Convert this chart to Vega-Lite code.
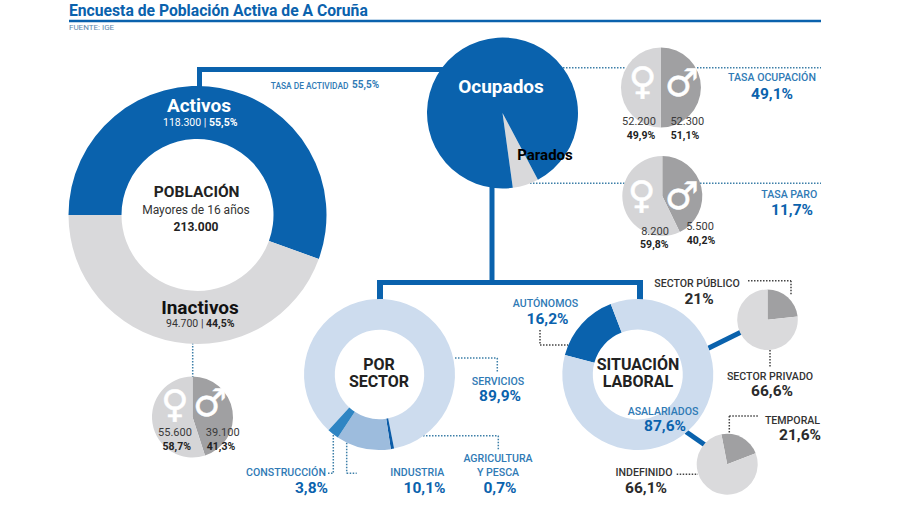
{"$schema":"https://vega.github.io/schema/vega-lite/v6.json","width":900,"height":506,"padding":0,"autosize":{"type":"fit","contains":"padding"},"background":"#ffffff","data":{"values":[{}]},
"config":{"view":{"stroke":null},"axis":{"disable":true},"text":{"font":"Roboto","align":"center","baseline":"middle"},
"style":{"blab":{"fontWeight":500,"fontSize":10.6,"color":"#2f7ab5"},"dlab":{"fontWeight":500,"fontSize":10.6,"color":"#333333"},"bpct":{"fontWeight":"bold","fontSize":15.5,"color":"#0a62ad"},"dpct":{"fontWeight":"bold","fontSize":15.5,"color":"#2b2b2b"},"num":{"fontSize":11,"color":"#3a3a3a"},"pcts":{"fontWeight":"bold","fontSize":10.5,"color":"#222222"},"head":{"fontWeight":"bold","fontSize":16,"color":"#222222"},"sym":{"font":"DejaVu Sans","fontSize":38,"color":"#ffffff","stroke":"#ffffff","strokeWidth":0.5},
"thick":{"color":"#0a62ad","strokeWidth":5},"dotb":{"color":"#3d7fa8","strokeWidth":1.5,"strokeDash":[1.5,1.5]},"dotd":{"color":"#444444","strokeWidth":1.5,"strokeDash":[1.5,1.5]}}},
"resolve":{"scale":{"theta":"independent","color":"independent"}},
"layer":[
{"mark":{"type":"rule","color":"#0a62ad","strokeWidth":2.5},"encoding":{"x":{"datum":69,"scale":{"domain":[0,900]}},"x2":{"datum":821},"y":{"datum":21,"scale":{"domain":[506,0]}}}},
{"mark":{"type":"rule","style":"thick"},"encoding":{"x":{"datum":199.5,"scale":{"domain":[0,900]}},"y":{"datum":67,"scale":{"domain":[506,0]}},"y2":{"datum":88}}},
{"mark":{"type":"rule","style":"thick"},"encoding":{"x":{"datum":197,"scale":{"domain":[0,900]}},"x2":{"datum":445},"y":{"datum":69.5,"scale":{"domain":[506,0]}}}},
{"mark":{"type":"rule","style":"thick"},"encoding":{"x":{"datum":492,"scale":{"domain":[0,900]}},"y":{"datum":185,"scale":{"domain":[506,0]}},"y2":{"datum":282}}},
{"mark":{"type":"rule","style":"thick"},"encoding":{"x":{"datum":377,"scale":{"domain":[0,900]}},"x2":{"datum":643},"y":{"datum":282.5,"scale":{"domain":[506,0]}}}},
{"mark":{"type":"rule","color":"#0a62ad","strokeWidth":6},"encoding":{"x":{"datum":380,"scale":{"domain":[0,900]}},"y":{"datum":282,"scale":{"domain":[506,0]}},"y2":{"datum":300}}},
{"mark":{"type":"rule","color":"#0a62ad","strokeWidth":6},"encoding":{"x":{"datum":640,"scale":{"domain":[0,900]}},"y":{"datum":282,"scale":{"domain":[506,0]}},"y2":{"datum":300}}},
{"mark":{"type":"rule","style":"thick"},"encoding":{"x":{"datum":708.3,"scale":{"domain":[0,900]}},"x2":{"datum":740.7},"y":{"datum":348.3,"scale":{"domain":[506,0]}},"y2":{"datum":332.3}}},
{"mark":{"type":"rule","style":"thick"},"encoding":{"x":{"datum":686,"scale":{"domain":[0,900]}},"x2":{"datum":705},"y":{"datum":431.7,"scale":{"domain":[506,0]}},"y2":{"datum":445}}},
{"mark":{"type":"rule","style":"dotb"},"encoding":{"x":{"datum":563,"scale":{"domain":[0,900]}},"x2":{"datum":625},"y":{"datum":67.7,"scale":{"domain":[506,0]}}}},
{"mark":{"type":"rule","style":"dotb"},"encoding":{"x":{"datum":697,"scale":{"domain":[0,900]}},"x2":{"datum":821},"y":{"datum":67.7,"scale":{"domain":[506,0]}}}},
{"mark":{"type":"rule","style":"dotb"},"encoding":{"x":{"datum":530,"scale":{"domain":[0,900]}},"x2":{"datum":625},"y":{"datum":183.3,"scale":{"domain":[506,0]}}}},
{"mark":{"type":"rule","style":"dotb"},"encoding":{"x":{"datum":700,"scale":{"domain":[0,900]}},"x2":{"datum":821},"y":{"datum":183.3,"scale":{"domain":[506,0]}}}},
{"mark":{"type":"rule","style":"dotb"},"encoding":{"x":{"datum":192.7,"scale":{"domain":[0,900]}},"y":{"datum":343,"scale":{"domain":[506,0]}},"y2":{"datum":377}}},
{"mark":{"type":"rule","style":"dotb"},"encoding":{"x":{"datum":455,"scale":{"domain":[0,900]}},"x2":{"datum":497.3},"y":{"datum":358,"scale":{"domain":[506,0]}}}},
{"mark":{"type":"rule","style":"dotb"},"encoding":{"x":{"datum":497.3,"scale":{"domain":[0,900]}},"y":{"datum":358,"scale":{"domain":[506,0]}},"y2":{"datum":372}}},
{"mark":{"type":"rule","style":"dotb"},"encoding":{"x":{"datum":393,"scale":{"domain":[0,900]}},"x2":{"datum":498.3},"y":{"datum":435.7,"scale":{"domain":[506,0]}}}},
{"mark":{"type":"rule","style":"dotb"},"encoding":{"x":{"datum":498.3,"scale":{"domain":[0,900]}},"y":{"datum":435.7,"scale":{"domain":[506,0]}},"y2":{"datum":450}}},
{"mark":{"type":"rule","style":"dotb"},"encoding":{"x":{"datum":333.3,"scale":{"domain":[0,900]}},"y":{"datum":435,"scale":{"domain":[506,0]}},"y2":{"datum":473.3}}},
{"mark":{"type":"rule","style":"dotb"},"encoding":{"x":{"datum":328,"scale":{"domain":[0,900]}},"x2":{"datum":333.3},"y":{"datum":473.3,"scale":{"domain":[506,0]}}}},
{"mark":{"type":"rule","style":"dotb"},"encoding":{"x":{"datum":346.7,"scale":{"domain":[0,900]}},"y":{"datum":442.7,"scale":{"domain":[506,0]}},"y2":{"datum":473.3}}},
{"mark":{"type":"rule","style":"dotb"},"encoding":{"x":{"datum":346.7,"scale":{"domain":[0,900]}},"x2":{"datum":356.7},"y":{"datum":473.3,"scale":{"domain":[506,0]}}}},
{"mark":{"type":"rule","style":"dotd"},"encoding":{"x":{"datum":540,"scale":{"domain":[0,900]}},"y":{"datum":330,"scale":{"domain":[506,0]}},"y2":{"datum":345}}},
{"mark":{"type":"rule","style":"dotd"},"encoding":{"x":{"datum":540,"scale":{"domain":[0,900]}},"x2":{"datum":568},"y":{"datum":345,"scale":{"domain":[506,0]}}}},
{"mark":{"type":"rule","style":"dotd"},"encoding":{"x":{"datum":748,"scale":{"domain":[0,900]}},"x2":{"datum":791},"y":{"datum":280.7,"scale":{"domain":[506,0]}}}},
{"mark":{"type":"rule","style":"dotd"},"encoding":{"x":{"datum":791,"scale":{"domain":[0,900]}},"y":{"datum":280.7,"scale":{"domain":[506,0]}},"y2":{"datum":295}}},
{"mark":{"type":"rule","style":"dotd"},"encoding":{"x":{"datum":770,"scale":{"domain":[0,900]}},"y":{"datum":350,"scale":{"domain":[506,0]}},"y2":{"datum":366.7}}},
{"mark":{"type":"rule","style":"dotd"},"encoding":{"x":{"datum":729.3,"scale":{"domain":[0,900]}},"x2":{"datum":758},"y":{"datum":416,"scale":{"domain":[506,0]}}}},
{"mark":{"type":"rule","style":"dotd"},"encoding":{"x":{"datum":729.3,"scale":{"domain":[0,900]}},"y":{"datum":416,"scale":{"domain":[506,0]}},"y2":{"datum":433}}},
{"mark":{"type":"rule","style":"dotd"},"encoding":{"x":{"datum":676.7,"scale":{"domain":[0,900]}},"x2":{"datum":698},"y":{"datum":474.3,"scale":{"domain":[506,0]}}}},

{"data":{"values":[{"part":"Activos","rank":1,"value":118300},{"part":"Inactivos","rank":2,"value":94700}]},"transform":[{"stack":"value","groupby":[],"offset":"normalize","sort":[{"field":"rank","order":"ascending"}],"as":["a0","a1"]}],"mark":{"type":"arc","innerRadius":76,"outerRadius":129},"encoding":{"x":{"datum":197.5,"scale":{"domain":[0,900]},"stack":null},"y":{"datum":215,"scale":{"domain":[506,0]},"stack":null},"theta":{"field":"a0","type":"quantitative","stack":null,"scale":{"domain":[0,1],"range":[-1.5708,4.7124]}},"theta2":{"field":"a1"},"color":{"field":"part","type":"nominal","legend":null,"scale":{"domain":["Activos","Inactivos"],"range":["#0a62ad","#d9d9db"]}}}},
{"data":{"values":[{"part":"Parados","rank":1,"value":5.6},{"part":"Ocupados","rank":2,"value":94.4}]},"transform":[{"stack":"value","groupby":[],"offset":"normalize","sort":[{"field":"rank","order":"ascending"}],"as":["a0","a1"]}],"mark":{"type":"arc","innerRadius":0,"outerRadius":75.5},"encoding":{"x":{"datum":502.5,"scale":{"domain":[0,900]},"stack":null},"y":{"datum":113,"scale":{"domain":[506,0]},"stack":null},"theta":{"field":"a0","type":"quantitative","stack":null,"scale":{"domain":[0,1],"range":[2.6529,8.9361]}},"theta2":{"field":"a1"},"color":{"field":"part","type":"nominal","legend":null,"scale":{"domain":["Parados","Ocupados"],"range":["#d9d9db","#0a62ad"]}}}},
{"data":{"values":[{"part":"Hombres","rank":1,"value":52300},{"part":"Mujeres","rank":2,"value":52200}]},"transform":[{"stack":"value","groupby":[],"offset":"normalize","sort":[{"field":"rank","order":"ascending"}],"as":["a0","a1"]}],"mark":{"type":"arc","innerRadius":0,"outerRadius":40},"encoding":{"x":{"datum":661,"scale":{"domain":[0,900]},"stack":null},"y":{"datum":87.5,"scale":{"domain":[506,0]},"stack":null},"theta":{"field":"a0","type":"quantitative","stack":null,"scale":{"domain":[0,1],"range":[0,6.2832]}},"theta2":{"field":"a1"},"color":{"field":"part","type":"nominal","legend":null,"scale":{"domain":["Hombres","Mujeres"],"range":["#a0a0a2","#d5d5d7"]}}}},
{"data":{"values":[{"part":"Hombres","rank":1,"value":42.8},{"part":"Mujeres","rank":2,"value":57.2}]},"transform":[{"stack":"value","groupby":[],"offset":"normalize","sort":[{"field":"rank","order":"ascending"}],"as":["a0","a1"]}],"mark":{"type":"arc","innerRadius":0,"outerRadius":40},"encoding":{"x":{"datum":662.3,"scale":{"domain":[0,900]},"stack":null},"y":{"datum":196,"scale":{"domain":[506,0]},"stack":null},"theta":{"field":"a0","type":"quantitative","stack":null,"scale":{"domain":[0,1],"range":[0,6.2832]}},"theta2":{"field":"a1"},"color":{"field":"part","type":"nominal","legend":null,"scale":{"domain":["Hombres","Mujeres"],"range":["#a0a0a2","#d5d5d7"]}}}},
{"data":{"values":[{"part":"Hombres","rank":1,"value":45},{"part":"Mujeres","rank":2,"value":55}]},"transform":[{"stack":"value","groupby":[],"offset":"normalize","sort":[{"field":"rank","order":"ascending"}],"as":["a0","a1"]}],"mark":{"type":"arc","innerRadius":0,"outerRadius":40.5},"encoding":{"x":{"datum":192.5,"scale":{"domain":[0,900]},"stack":null},"y":{"datum":417,"scale":{"domain":[506,0]},"stack":null},"theta":{"field":"a0","type":"quantitative","stack":null,"scale":{"domain":[0,1],"range":[0,6.2832]}},"theta2":{"field":"a1"},"color":{"field":"part","type":"nominal","legend":null,"scale":{"domain":["Hombres","Mujeres"],"range":["#a0a0a2","#d5d5d7"]}}}},
{"data":{"values":[{"part":"Servicios","rank":1,"value":85.1},{"part":"Agricultura y pesca","rank":2,"value":0.7},{"part":"Industria","rank":3,"value":11.7},{"part":"Construcción","rank":4,"value":2.5}]},"transform":[{"stack":"value","groupby":[],"offset":"normalize","sort":[{"field":"rank","order":"ascending"}],"as":["a0","a1"]}],"mark":{"type":"arc","innerRadius":44.7,"outerRadius":75.5},"encoding":{"x":{"datum":379.5,"scale":{"domain":[0,900]},"stack":null},"y":{"datum":374.5,"scale":{"domain":[506,0]},"stack":null},"theta":{"field":"a0","type":"quantitative","stack":null,"scale":{"domain":[0,1],"range":[3.8833,10.1665]}},"theta2":{"field":"a1"},"color":{"field":"part","type":"nominal","legend":null,"scale":{"domain":["Servicios","Agricultura y pesca","Industria","Construcción"],"range":["#cddcee","#0b5ca8","#9dbcdd","#2f85c3"]}}}},
{"data":{"values":[{"part":"Autónomos","rank":1,"value":15},{"part":"Asalariados","rank":2,"value":85}]},"transform":[{"stack":"value","groupby":[],"offset":"normalize","sort":[{"field":"rank","order":"ascending"}],"as":["a0","a1"]}],"mark":{"type":"arc","innerRadius":45,"outerRadius":75.5},"encoding":{"x":{"datum":637.8,"scale":{"domain":[0,900]},"stack":null},"y":{"datum":374.5,"scale":{"domain":[506,0]},"stack":null},"theta":{"field":"a0","type":"quantitative","stack":null,"scale":{"domain":[0,1],"range":[4.9742,11.2574]}},"theta2":{"field":"a1"},"color":{"field":"part","type":"nominal","legend":null,"scale":{"domain":["Autónomos","Asalariados"],"range":["#0a62ad","#cddcee"]}}}},
{"data":{"values":[{"part":"Sector público","rank":1,"value":23.3},{"part":"Sector privado","rank":2,"value":76.7}]},"transform":[{"stack":"value","groupby":[],"offset":"normalize","sort":[{"field":"rank","order":"ascending"}],"as":["a0","a1"]}],"mark":{"type":"arc","innerRadius":0,"outerRadius":30.3},"encoding":{"x":{"datum":767.5,"scale":{"domain":[0,900]},"stack":null},"y":{"datum":319.7,"scale":{"domain":[506,0]},"stack":null},"theta":{"field":"a0","type":"quantitative","stack":null,"scale":{"domain":[0,1],"range":[0,6.2832]}},"theta2":{"field":"a1"},"color":{"field":"part","type":"nominal","legend":null,"scale":{"domain":["Sector público","Sector privado"],"range":["#a0a0a2","#dadadc"]}}}},
{"data":{"values":[{"part":"Temporal","rank":1,"value":22.2},{"part":"Indefinido","rank":2,"value":77.8}]},"transform":[{"stack":"value","groupby":[],"offset":"normalize","sort":[{"field":"rank","order":"ascending"}],"as":["a0","a1"]}],"mark":{"type":"arc","innerRadius":0,"outerRadius":30.5},"encoding":{"x":{"datum":727.2,"scale":{"domain":[0,900]},"stack":null},"y":{"datum":464.2,"scale":{"domain":[506,0]},"stack":null},"theta":{"field":"a0","type":"quantitative","stack":null,"scale":{"domain":[0,1],"range":[-0.192,6.0912]}},"theta2":{"field":"a1"},"color":{"field":"part","type":"nominal","legend":null,"scale":{"domain":["Temporal","Indefinido"],"range":["#a0a0a2","#dadadc"]}}}},

{"data":{"values":[{"t":"Encuesta de Población Activa de A Coruña"}]},"mark":{"type":"text","align":"left","fontWeight":"bold","fontSize":15.7,"color":"#0a62ad"},"encoding":{"x":{"datum":69,"scale":{"domain":[0,900]}},"y":{"datum":10.5,"scale":{"domain":[506,0]}},"text":{"field":"t"}}},
{"data":{"values":[{"t":"FUENTE: IGE"}]},"mark":{"type":"text","align":"left","fontSize":8,"color":"#5a87ad"},"encoding":{"x":{"datum":69,"scale":{"domain":[0,900]}},"y":{"datum":27.5,"scale":{"domain":[506,0]}},"text":{"field":"t"}}},
{"data":{"values":[{"t":"Activos"}]},"mark":{"type":"text","fontWeight":"bold","fontSize":19,"color":"#ffffff"},"encoding":{"x":{"datum":199,"scale":{"domain":[0,900]}},"y":{"datum":106,"scale":{"domain":[506,0]}},"text":{"field":"t"}}},
{"data":{"values":[{"t":"118.300 |"}]},"mark":{"type":"text","align":"left","fontSize":10.5,"color":"#ffffff"},"encoding":{"x":{"datum":163,"scale":{"domain":[0,900]}},"y":{"datum":123,"scale":{"domain":[506,0]}},"text":{"field":"t"}}},
{"data":{"values":[{"t":"55,5%"}]},"mark":{"type":"text","align":"left","fontWeight":"bold","fontSize":10.5,"color":"#ffffff"},"encoding":{"x":{"datum":209,"scale":{"domain":[0,900]}},"y":{"datum":123,"scale":{"domain":[506,0]}},"text":{"field":"t"}}},
{"data":{"values":[{"t":"POBLACIÓN"}]},"mark":{"type":"text","fontWeight":"bold","fontSize":15.5,"color":"#222222"},"encoding":{"x":{"datum":196.7,"scale":{"domain":[0,900]}},"y":{"datum":192,"scale":{"domain":[506,0]}},"text":{"field":"t"}}},
{"data":{"values":[{"t":"Mayores de 16 años"}]},"mark":{"type":"text","fontSize":12,"color":"#333333"},"encoding":{"x":{"datum":196,"scale":{"domain":[0,900]}},"y":{"datum":210,"scale":{"domain":[506,0]}},"text":{"field":"t"}}},
{"data":{"values":[{"t":"213.000"}]},"mark":{"type":"text","fontWeight":"bold","fontSize":12,"color":"#222222"},"encoding":{"x":{"datum":196,"scale":{"domain":[0,900]}},"y":{"datum":227,"scale":{"domain":[506,0]}},"text":{"field":"t"}}},
{"data":{"values":[{"t":"TASA DE ACTIVIDAD"}]},"mark":{"type":"text","align":"left","fontWeight":500,"fontSize":8.4,"color":"#2f7ab5"},"encoding":{"x":{"datum":270.7,"scale":{"domain":[0,900]}},"y":{"datum":85.5,"scale":{"domain":[506,0]}},"text":{"field":"t"}}},
{"data":{"values":[{"t":"55,5%"}]},"mark":{"type":"text","align":"left","fontWeight":"bold","fontSize":10,"color":"#2f7ab5"},"encoding":{"x":{"datum":352,"scale":{"domain":[0,900]}},"y":{"datum":85,"scale":{"domain":[506,0]}},"text":{"field":"t"}}},
{"data":{"values":[{"t":"Ocupados"}]},"mark":{"type":"text","fontWeight":"bold","fontSize":19,"color":"#ffffff"},"encoding":{"x":{"datum":501,"scale":{"domain":[0,900]}},"y":{"datum":86.7,"scale":{"domain":[506,0]}},"text":{"field":"t"}}},
{"data":{"values":[{"t":"Parados"}]},"mark":{"type":"text","fontWeight":"bold","fontSize":15,"color":"#000000"},"encoding":{"x":{"datum":545,"scale":{"domain":[0,900]}},"y":{"datum":155,"scale":{"domain":[506,0]}},"text":{"field":"t"}}},
{"data":{"values":[{"t":"♀"}]},"mark":{"type":"text","style":"sym"},"encoding":{"x":{"datum":642.7,"scale":{"domain":[0,900]}},"y":{"datum":83,"scale":{"domain":[506,0]}},"text":{"field":"t"}}},
{"data":{"values":[{"t":"♂"}]},"mark":{"type":"text","style":"sym"},"encoding":{"x":{"datum":681.7,"scale":{"domain":[0,900]}},"y":{"datum":85,"scale":{"domain":[506,0]}},"text":{"field":"t"}}},
{"data":{"values":[{"t":"♀"}]},"mark":{"type":"text","style":"sym"},"encoding":{"x":{"datum":641.7,"scale":{"domain":[0,900]}},"y":{"datum":196.7,"scale":{"domain":[506,0]}},"text":{"field":"t"}}},
{"data":{"values":[{"t":"♂"}]},"mark":{"type":"text","style":"sym"},"encoding":{"x":{"datum":681.7,"scale":{"domain":[0,900]}},"y":{"datum":198,"scale":{"domain":[506,0]}},"text":{"field":"t"}}},
{"data":{"values":[{"t":"♀"}]},"mark":{"type":"text","style":"sym"},"encoding":{"x":{"datum":175,"scale":{"domain":[0,900]}},"y":{"datum":406,"scale":{"domain":[506,0]}},"text":{"field":"t"}}},
{"data":{"values":[{"t":"♂"}]},"mark":{"type":"text","style":"sym"},"encoding":{"x":{"datum":210,"scale":{"domain":[0,900]}},"y":{"datum":405,"scale":{"domain":[506,0]}},"text":{"field":"t"}}},
{"data":{"values":[{"t":"52.200"}]},"mark":{"type":"text","style":"num"},"encoding":{"x":{"datum":639,"scale":{"domain":[0,900]}},"y":{"datum":122.3,"scale":{"domain":[506,0]}},"text":{"field":"t"}}},
{"data":{"values":[{"t":"49,9%"}]},"mark":{"type":"text","style":"pcts"},"encoding":{"x":{"datum":641,"scale":{"domain":[0,900]}},"y":{"datum":135.7,"scale":{"domain":[506,0]}},"text":{"field":"t"}}},
{"data":{"values":[{"t":"52.300"}]},"mark":{"type":"text","style":"num"},"encoding":{"x":{"datum":687.3,"scale":{"domain":[0,900]}},"y":{"datum":122.3,"scale":{"domain":[506,0]}},"text":{"field":"t"}}},
{"data":{"values":[{"t":"51,1%"}]},"mark":{"type":"text","style":"pcts"},"encoding":{"x":{"datum":685,"scale":{"domain":[0,900]}},"y":{"datum":135.7,"scale":{"domain":[506,0]}},"text":{"field":"t"}}},
{"data":{"values":[{"t":"8.200"}]},"mark":{"type":"text","style":"num"},"encoding":{"x":{"datum":655,"scale":{"domain":[0,900]}},"y":{"datum":232.3,"scale":{"domain":[506,0]}},"text":{"field":"t"}}},
{"data":{"values":[{"t":"59,8%"}]},"mark":{"type":"text","style":"pcts"},"encoding":{"x":{"datum":654.3,"scale":{"domain":[0,900]}},"y":{"datum":245.3,"scale":{"domain":[506,0]}},"text":{"field":"t"}}},
{"data":{"values":[{"t":"5.500"}]},"mark":{"type":"text","style":"num"},"encoding":{"x":{"datum":700,"scale":{"domain":[0,900]}},"y":{"datum":226.7,"scale":{"domain":[506,0]}},"text":{"field":"t"}}},
{"data":{"values":[{"t":"40,2%"}]},"mark":{"type":"text","style":"pcts"},"encoding":{"x":{"datum":701,"scale":{"domain":[0,900]}},"y":{"datum":240.7,"scale":{"domain":[506,0]}},"text":{"field":"t"}}},
{"data":{"values":[{"t":"55.600"}]},"mark":{"type":"text","style":"num"},"encoding":{"x":{"datum":175,"scale":{"domain":[0,900]}},"y":{"datum":433.3,"scale":{"domain":[506,0]}},"text":{"field":"t"}}},
{"data":{"values":[{"t":"58,7%"}]},"mark":{"type":"text","style":"pcts"},"encoding":{"x":{"datum":176.7,"scale":{"domain":[0,900]}},"y":{"datum":446.7,"scale":{"domain":[506,0]}},"text":{"field":"t"}}},
{"data":{"values":[{"t":"39.100"}]},"mark":{"type":"text","style":"num"},"encoding":{"x":{"datum":222.7,"scale":{"domain":[0,900]}},"y":{"datum":433.3,"scale":{"domain":[506,0]}},"text":{"field":"t"}}},
{"data":{"values":[{"t":"41,3%"}]},"mark":{"type":"text","style":"pcts"},"encoding":{"x":{"datum":221,"scale":{"domain":[0,900]}},"y":{"datum":446.7,"scale":{"domain":[506,0]}},"text":{"field":"t"}}},
{"data":{"values":[{"t":"TASA OCUPACIÓN"}]},"mark":{"type":"text","style":"blab"},"encoding":{"x":{"datum":772,"scale":{"domain":[0,900]}},"y":{"datum":78.3,"scale":{"domain":[506,0]}},"text":{"field":"t"}}},
{"data":{"values":[{"t":"49,1%"}]},"mark":{"type":"text","style":"bpct"},"encoding":{"x":{"datum":772,"scale":{"domain":[0,900]}},"y":{"datum":94,"scale":{"domain":[506,0]}},"text":{"field":"t"}}},
{"data":{"values":[{"t":"TASA PARO"}]},"mark":{"type":"text","style":"blab"},"encoding":{"x":{"datum":789.3,"scale":{"domain":[0,900]}},"y":{"datum":195,"scale":{"domain":[506,0]}},"text":{"field":"t"}}},
{"data":{"values":[{"t":"11,7%"}]},"mark":{"type":"text","style":"bpct"},"encoding":{"x":{"datum":792,"scale":{"domain":[0,900]}},"y":{"datum":210,"scale":{"domain":[506,0]}},"text":{"field":"t"}}},
{"data":{"values":[{"t":"Inactivos"}]},"mark":{"type":"text","fontWeight":"bold","fontSize":19,"color":"#111111"},"encoding":{"x":{"datum":200,"scale":{"domain":[0,900]}},"y":{"datum":307.7,"scale":{"domain":[506,0]}},"text":{"field":"t"}}},
{"data":{"values":[{"t":"94.700 |"}]},"mark":{"type":"text","align":"left","fontSize":10.5,"color":"#333333"},"encoding":{"x":{"datum":166,"scale":{"domain":[0,900]}},"y":{"datum":324.3,"scale":{"domain":[506,0]}},"text":{"field":"t"}}},
{"data":{"values":[{"t":"44,5%"}]},"mark":{"type":"text","align":"left","fontWeight":"bold","fontSize":10.5,"color":"#222222"},"encoding":{"x":{"datum":206,"scale":{"domain":[0,900]}},"y":{"datum":324.3,"scale":{"domain":[506,0]}},"text":{"field":"t"}}},
{"data":{"values":[{"t":"POR"}]},"mark":{"type":"text","style":"head"},"encoding":{"x":{"datum":379,"scale":{"domain":[0,900]}},"y":{"datum":365,"scale":{"domain":[506,0]}},"text":{"field":"t"}}},
{"data":{"values":[{"t":"SECTOR"}]},"mark":{"type":"text","style":"head"},"encoding":{"x":{"datum":379,"scale":{"domain":[0,900]}},"y":{"datum":381.7,"scale":{"domain":[506,0]}},"text":{"field":"t"}}},
{"data":{"values":[{"t":"SERVICIOS"}]},"mark":{"type":"text","style":"blab"},"encoding":{"x":{"datum":498,"scale":{"domain":[0,900]}},"y":{"datum":381.7,"scale":{"domain":[506,0]}},"text":{"field":"t"}}},
{"data":{"values":[{"t":"89,9%"}]},"mark":{"type":"text","style":"bpct"},"encoding":{"x":{"datum":500,"scale":{"domain":[0,900]}},"y":{"datum":396,"scale":{"domain":[506,0]}},"text":{"field":"t"}}},
{"data":{"values":[{"t":"AGRICULTURA"}]},"mark":{"type":"text","style":"blab"},"encoding":{"x":{"datum":498,"scale":{"domain":[0,900]}},"y":{"datum":459.3,"scale":{"domain":[506,0]}},"text":{"field":"t"}}},
{"data":{"values":[{"t":"Y PESCA"}]},"mark":{"type":"text","style":"blab"},"encoding":{"x":{"datum":498,"scale":{"domain":[0,900]}},"y":{"datum":472.7,"scale":{"domain":[506,0]}},"text":{"field":"t"}}},
{"data":{"values":[{"t":"0,7%"}]},"mark":{"type":"text","style":"bpct"},"encoding":{"x":{"datum":500,"scale":{"domain":[0,900]}},"y":{"datum":488.3,"scale":{"domain":[506,0]}},"text":{"field":"t"}}},
{"data":{"values":[{"t":"INDUSTRIA"}]},"mark":{"type":"text","style":"blab"},"encoding":{"x":{"datum":417.3,"scale":{"domain":[0,900]}},"y":{"datum":473,"scale":{"domain":[506,0]}},"text":{"field":"t"}}},
{"data":{"values":[{"t":"10,1%"}]},"mark":{"type":"text","style":"bpct"},"encoding":{"x":{"datum":424.5,"scale":{"domain":[0,900]}},"y":{"datum":488.3,"scale":{"domain":[506,0]}},"text":{"field":"t"}}},
{"data":{"values":[{"t":"CONSTRUCCIÓN"}]},"mark":{"type":"text","style":"blab"},"encoding":{"x":{"datum":286,"scale":{"domain":[0,900]}},"y":{"datum":473,"scale":{"domain":[506,0]}},"text":{"field":"t"}}},
{"data":{"values":[{"t":"3,8%"}]},"mark":{"type":"text","style":"bpct"},"encoding":{"x":{"datum":311.5,"scale":{"domain":[0,900]}},"y":{"datum":488.3,"scale":{"domain":[506,0]}},"text":{"field":"t"}}},
{"data":{"values":[{"t":"AUTÓNOMOS"}]},"mark":{"type":"text","style":"blab"},"encoding":{"x":{"datum":545.5,"scale":{"domain":[0,900]}},"y":{"datum":304.3,"scale":{"domain":[506,0]}},"text":{"field":"t"}}},
{"data":{"values":[{"t":"16,2%"}]},"mark":{"type":"text","style":"bpct"},"encoding":{"x":{"datum":547.5,"scale":{"domain":[0,900]}},"y":{"datum":319.3,"scale":{"domain":[506,0]}},"text":{"field":"t"}}},
{"data":{"values":[{"t":"SECTOR PÚBLICO"}]},"mark":{"type":"text","style":"dlab"},"encoding":{"x":{"datum":697,"scale":{"domain":[0,900]}},"y":{"datum":284.3,"scale":{"domain":[506,0]}},"text":{"field":"t"}}},
{"data":{"values":[{"t":"21%"}]},"mark":{"type":"text","style":"dpct"},"encoding":{"x":{"datum":699,"scale":{"domain":[0,900]}},"y":{"datum":299.3,"scale":{"domain":[506,0]}},"text":{"field":"t"}}},
{"data":{"values":[{"t":"SITUACIÓN"}]},"mark":{"type":"text","style":"head"},"encoding":{"x":{"datum":638,"scale":{"domain":[0,900]}},"y":{"datum":365,"scale":{"domain":[506,0]}},"text":{"field":"t"}}},
{"data":{"values":[{"t":"LABORAL"}]},"mark":{"type":"text","style":"head"},"encoding":{"x":{"datum":638,"scale":{"domain":[0,900]}},"y":{"datum":381.7,"scale":{"domain":[506,0]}},"text":{"field":"t"}}},
{"data":{"values":[{"t":"ASALARIADOS"}]},"mark":{"type":"text","style":"blab"},"encoding":{"x":{"datum":663,"scale":{"domain":[0,900]}},"y":{"datum":412.3,"scale":{"domain":[506,0]}},"text":{"field":"t"}}},
{"data":{"values":[{"t":"87,6%"}]},"mark":{"type":"text","style":"bpct"},"encoding":{"x":{"datum":665,"scale":{"domain":[0,900]}},"y":{"datum":426,"scale":{"domain":[506,0]}},"text":{"field":"t"}}},
{"data":{"values":[{"t":"SECTOR PRIVADO"}]},"mark":{"type":"text","style":"dlab"},"encoding":{"x":{"datum":770,"scale":{"domain":[0,900]}},"y":{"datum":376.7,"scale":{"domain":[506,0]}},"text":{"field":"t"}}},
{"data":{"values":[{"t":"66,6%"}]},"mark":{"type":"text","style":"dpct"},"encoding":{"x":{"datum":772,"scale":{"domain":[0,900]}},"y":{"datum":390.7,"scale":{"domain":[506,0]}},"text":{"field":"t"}}},
{"data":{"values":[{"t":"TEMPORAL"}]},"mark":{"type":"text","style":"dlab"},"encoding":{"x":{"datum":792.5,"scale":{"domain":[0,900]}},"y":{"datum":421,"scale":{"domain":[506,0]}},"text":{"field":"t"}}},
{"data":{"values":[{"t":"21,6%"}]},"mark":{"type":"text","style":"dpct"},"encoding":{"x":{"datum":800,"scale":{"domain":[0,900]}},"y":{"datum":435,"scale":{"domain":[506,0]}},"text":{"field":"t"}}},
{"data":{"values":[{"t":"INDEFINIDO"}]},"mark":{"type":"text","style":"dlab"},"encoding":{"x":{"datum":644,"scale":{"domain":[0,900]}},"y":{"datum":473.3,"scale":{"domain":[506,0]}},"text":{"field":"t"}}},
{"data":{"values":[{"t":"66,1%"}]},"mark":{"type":"text","style":"dpct"},"encoding":{"x":{"datum":646,"scale":{"domain":[0,900]}},"y":{"datum":487.7,"scale":{"domain":[506,0]}},"text":{"field":"t"}}}
]}
